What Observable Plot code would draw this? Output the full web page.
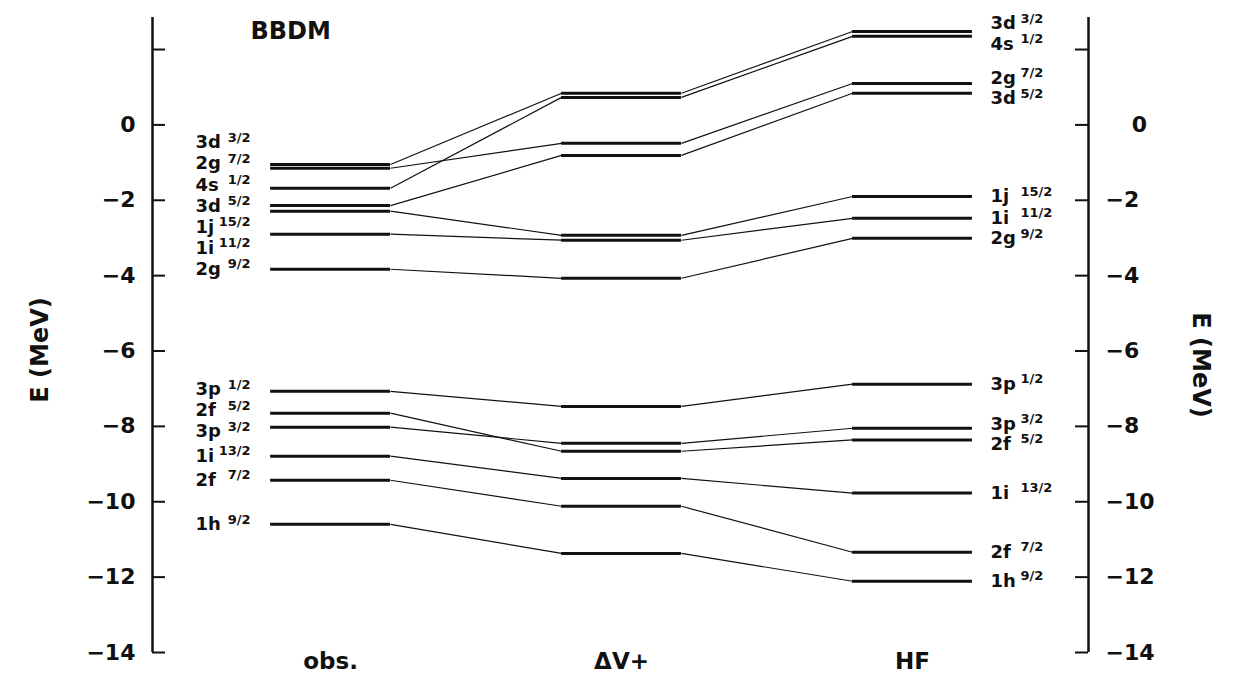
<!DOCTYPE html>
<html>
<head>
<meta charset="utf-8">
<script src="https://cdn.jsdelivr.net/npm/d3@7"></script>
<script src="https://cdn.jsdelivr.net/npm/@observablehq/plot@0.6"></script>
<style>
  html, body { margin: 0; padding: 0; background: #fff; }
  #chart svg { display: block; }
</style>
</head>
<body>
<div id="chart"></div>
<script>
// ---- data ----
const columns = ["obs.", "ΔV+", "HF"];
const orbitals = ["3d", "2g", "4s", "3d", "1j", "1i", "2g", "3p", "2f", "3p", "1i", "2f", "1h"];
const spins    = ["3/2", "7/2", "1/2", "5/2", "15/2", "11/2", "9/2", "1/2", "5/2", "3/2", "13/2", "7/2", "9/2"];
const obsE     = [-1.05, -1.15, -1.68, -2.14, -2.29, -2.90, -3.83, -7.07, -7.65, -8.02, -8.79, -9.43, -10.60];
const dVplusE  = [0.84, -0.49, 0.73, -0.81, -2.93, -3.06, -4.07, -7.47, -8.66, -8.45, -9.38, -10.12, -11.37];
const hfE      = [2.48, 1.10, 2.35, 0.84, -1.90, -2.48, -3.01, -6.88, -8.36, -8.05, -9.77, -11.34, -12.11];
const yTicks   = [2, 0, -2, -4, -6, -8, -10, -12, -14];
const yTickLabels = [0, -2, -4, -6, -8, -10, -12, -14];
const title = "BBDM";
const axisTitle = "E (MeV)";

// ---- derived tables ----
const series = [obsE, dVplusE, hfE];
const xDomain = [-0.612, 2.605];
const yDomain = [-14, 2.85];
const half = 0.206;          // half width of a level bar (column units)
const tickLen = 13 / 291;    // inward tick length (column units)

const segs = [];
series.forEach((vals, c) => vals.forEach((E, i) => segs.push({E, xa: c - half, xb: c + half})));
const links = [];
for (let c = 0; c < 2; c++) {
  orbitals.forEach((o, i) => links.push({x1: c + half, y1: series[c][i], x2: c + 1 - half, y2: series[c + 1][i]}));
}

function dodge(values, gap) {
  const idx = values.map((v, i) => i).sort((a, b) => values[b] - values[a]);
  const clusters = [];
  for (const i of idx) {
    clusters.push({members: [i], center: values[i]});
    while (clusters.length > 1) {
      const b = clusters[clusters.length - 1], a = clusters[clusters.length - 2];
      const aBottom = a.center - (a.members.length - 1) * gap / 2;
      const bTop = b.center + (b.members.length - 1) * gap / 2;
      if (aBottom - bTop < gap) {
        const members = a.members.concat(b.members);
        clusters.splice(-2, 2, {members, center: d3.mean(members, m => values[m])});
      } else break;
    }
  }
  const pos = new Array(values.length);
  for (const cl of clusters) cl.members.forEach((m, k) => pos[m] = cl.center + ((cl.members.length - 1) / 2 - k) * gap);
  return pos;
}
const leftPos = dodge(obsE, 0.56);
const rightPos = dodge(hfE, 0.54);
const leftLabels = orbitals.map((o, i) => ({o, s: spins[i], y: leftPos[i]}));
const rightLabels = orbitals.map((o, i) => ({o, s: spins[i], y: rightPos[i]}));

const fmtL = d => d === 0 ? "0" : "\u2212" + Math.abs(d);
const fmtR = d => d === 0 ? "\u2002\u20070" : "\u2212" + Math.abs(d);
const font = "DejaVu Sans";

const chart = Plot.plot({
  width: 1238,
  height: 685,
  marginLeft: 152,
  marginRight: 150,
  marginTop: 17,
  marginBottom: 33,
  style: {fontFamily: font, color: "#111", background: "#fff"},
  x: {domain: xDomain, axis: null},
  y: {domain: yDomain, axis: null},
  marks: [
    // axis lines
    Plot.ruleX([xDomain[0]], {y1: yDomain[1], y2: yDomain[0], stroke: "#111", strokeWidth: 2.5}),
    Plot.ruleX([xDomain[1]], {y1: yDomain[1], y2: yDomain[0], stroke: "#111", strokeWidth: 2.5}),
    // inward ticks
    Plot.ruleY(yTicks, {x1: xDomain[0], x2: xDomain[0] + tickLen, stroke: "#111", strokeWidth: 2}),
    Plot.ruleY(yTicks, {x1: xDomain[1] - tickLen, x2: xDomain[1], stroke: "#111", strokeWidth: 2}),
    // tick labels
    Plot.axisY({anchor: "left", ticks: yTickLabels, tickSize: 0, tickPadding: 17, tickFormat: fmtL, fontSize: 22, fontWeight: "bold", label: null}),
    Plot.axisY({anchor: "right", ticks: yTickLabels, tickSize: 0, tickPadding: 17, tickFormat: fmtR, fontSize: 22, fontWeight: "bold", label: null}),
    Plot.axisX({ticks: [0, 1, 2], tickFormat: i => columns[i], tickSize: 0, tickPadding: 0, fontSize: 23, fontWeight: "bold", label: null}),
    // connectors and levels
    Plot.link(links, {x1: "x1", y1: "y1", x2: "x2", y2: "y2", stroke: "#111", strokeWidth: 1.2}),
    Plot.ruleY(segs, {y: "E", x1: "xa", x2: "xb", stroke: "#111", strokeWidth: 3}),
    // level labels
    Plot.text(leftLabels, {x: -0.464, y: "y", text: "o", textAnchor: "start", fontSize: 18, fontWeight: "bold"}),
    Plot.text(leftLabels, {x: -0.275, y: "y", text: "s", textAnchor: "end", fontSize: 13, fontWeight: "bold", dy: -5}),
    Plot.text(rightLabels, {x: 2.268, y: "y", text: "o", textAnchor: "start", fontSize: 18, fontWeight: "bold"}),
    Plot.text(rightLabels, {x: 2.371, y: "y", text: "s", textAnchor: "start", fontSize: 13, fontWeight: "bold", dy: -5}),
    // titles
    Plot.text([title], {frameAnchor: "top-left", dx: 98, dy: 14, textAnchor: "start", lineAnchor: "middle", fontSize: 24, fontWeight: "bold"}),
    Plot.text([axisTitle], {frameAnchor: "left", dx: -112, dy: 15, rotate: -90, textAnchor: "middle", fontSize: 24, fontWeight: "bold"}),
    Plot.text([axisTitle], {frameAnchor: "right", dx: 112, dy: 30, rotate: 90, textAnchor: "middle", fontSize: 24, fontWeight: "bold"})
  ]
});
document.getElementById("chart").appendChild(chart);
</script>
</body>
</html>
